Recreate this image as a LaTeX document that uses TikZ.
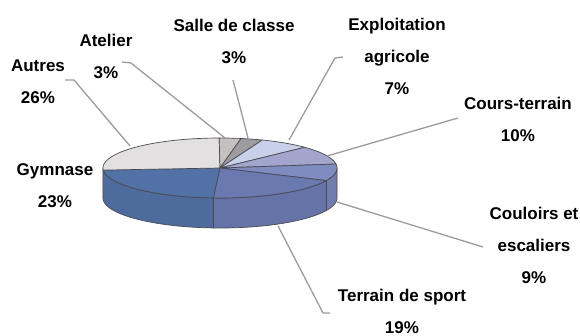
\documentclass[tikz,border=0pt]{standalone}
\usepackage{fontspec}
\setmainfont{Liberation Sans}
\definecolor{cAutres}{HTML}{E2E0E0}
\definecolor{cAtelier}{HTML}{C4C0C0}
\definecolor{cSalle}{HTML}{9E9C9E}
\definecolor{cExpl}{HTML}{C8D0EA}
\definecolor{cCours}{HTML}{A2A6CC}
\definecolor{cCoul}{HTML}{7E8CC0}
\definecolor{cTerr}{HTML}{6A79B0}
\definecolor{cGym}{HTML}{5271A6}
\definecolor{cEdge}{HTML}{4A4A52}
\definecolor{cLead}{HTML}{A09A9A}
\def\pcx{220}
\def\pcy{168}
\def\prx{117}
\def\pry{30}
\def\pdd{30}
\tikzset{
  lab/.style={inner sep=0pt, align=center, font=\bfseries\fontsize{17}{32}\selectfont},
  lead/.style={draw=cLead, line width=1.3pt},
  face/.style={draw=cEdge, line width=0.7pt, line join=round},
}
\newcommand\topslice[3]{%
  \filldraw[face, fill=#3] (\pcx,\pcy) -- plot[domain=#1:#2, samples=40] ({\pcx+\prx*cos(\x)},{\pcy+\pry*sin(\x)}) -- cycle;}
\newcommand\sideslice[3]{%
  \filldraw[face, fill=#3] plot[domain=#1:#2, samples=40] ({\pcx+\prx*cos(\x)},{\pcy+\pry*sin(\x)}) -- plot[domain=#2:#1, samples=40] ({\pcx+\prx*cos(\x)},{\pcy+\pdd+\pry*sin(\x)}) -- cycle;}
\begin{document}
\begin{tikzpicture}[x=1pt,y=-1pt]
\useasboundingbox (0,0) rectangle (580,336);
\fill[white] (0,0) rectangle (580,336);
% sides
\sideslice{0}{24.8}{cCoul!90!black}
\sideslice{24.8}{93.2}{cTerr!95!black}
\sideslice{93.2}{176}{cGym!95!black}
\sideslice{176}{180}{cAutres!85!black}
% top faces
\topslice{93.2}{176}{cGym}
\topslice{176}{269.6}{cAutres}
\topslice{269.6}{280.4}{cAtelier}
\topslice{280.4}{291.2}{cSalle}
\topslice{291.2}{316.4}{cExpl}
\topslice{316.4}{352.4}{cCours}
\topslice{-7.6}{24.8}{cCoul}
\topslice{24.8}{93.2}{cTerr}
% labels
\node[lab] (lAutres) at (38,82) {Autres\\26\%};
\node[lab] (lAtelier) at (106,56) {Atelier\\3\%};
\node[lab] (lSalle) at (234,41) {Salle de classe\\3\%};
\node[lab] (lExpl) at (397,56) {Exploitation\\agricole\\7\%};
\node[lab] (lCours) at (518,119) {Cours-terrain\\10\%};
\node[lab] (lCoul) at (534,245) {Couloirs et\\escaliers\\9\%};
\node[lab] (lTerr) at (402,311) {Terrain de sport\\19\%};
\node[lab] (lGym) at (55,186) {Gymnase\\23\%};
% leader line ends
\coordinate (aAutres) at (65,80);
\coordinate (bAutres) at (74,80);
\coordinate (pAutres) at (130,146);
\coordinate (aAtelier) at (122,62);
\coordinate (bAtelier) at (131,63);
\coordinate (pAtelier) at (225,138);
\coordinate (aSalle) at (233,80);
\coordinate (pSalle) at (248,138);
\coordinate (aExpl) at (343,57);
\coordinate (bExpl) at (335,58);
\coordinate (pExpl) at (289,140);
\coordinate (aCours) at (458,118);
\coordinate (pCours) at (327,156);
\coordinate (aCoul) at (483,247);
\coordinate (pCoul) at (337,202);
\coordinate (aTerr) at (330,313);
\coordinate (bTerr) at (323,313);
\coordinate (pTerr) at (278,226);
\draw[lead] (aAutres) -- (bAutres) -- (pAutres);
\draw[lead] (aAtelier) -- (bAtelier) -- (pAtelier);
\draw[lead] (aSalle) -- (pSalle);
\draw[lead] (aExpl) -- (bExpl) -- (pExpl);
\draw[lead] (aCours) -- (pCours);
\draw[lead] (aCoul) -- (pCoul);
\draw[lead] (aTerr) -- (bTerr) -- (pTerr);
\end{tikzpicture}
\end{document}
